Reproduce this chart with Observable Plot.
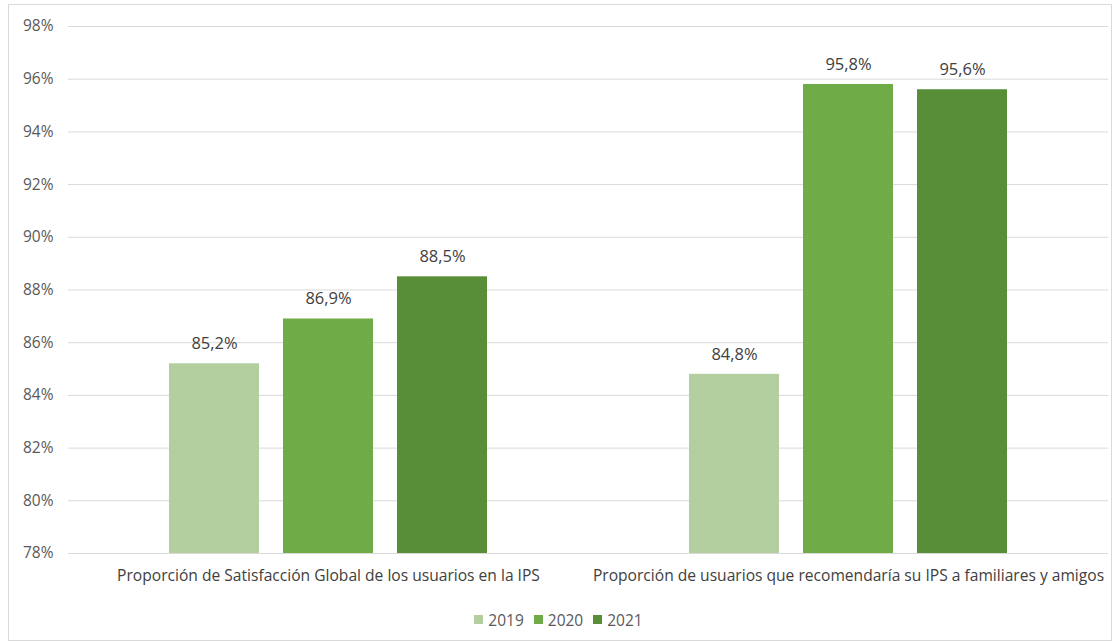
<!DOCTYPE html>
<html>
<head>
<meta charset="utf-8">
<script src="https://cdn.jsdelivr.net/npm/d3@7"></script>
<script src="https://cdn.jsdelivr.net/npm/@observablehq/plot@0.6"></script>
<style>
  body { margin: 0; background: #fff; font-family: "Open Sans", sans-serif; }
  #wrap { position: relative; width: 1117px; height: 643px; overflow: hidden; }
  #frame { position: absolute; left: 8px; top: 4px; width: 1102px; height: 635px; border: 1px solid #d9d9d9; pointer-events: none; }
  #chart { position: absolute; left: 0; top: 0; }
  #legend { position: absolute; left: 0; width: 1117px; top: 607px; text-align: center; font-size: 15.5px; color: #595959; line-height: 22px; }
  #legend span.item { display: inline-flex; align-items: center; margin: 0 5px; }
  #legend span.sw { display: inline-block; width: 9px; height: 9px; margin-right: 5px; }
</style>
</head>
<body>
<div id="wrap">
  <div id="chart"></div>
  <div id="legend"></div>
  <div id="frame"></div>
</div>
<script>
const categories = [
  "Proporción de Satisfacción Global de los usuarios en la IPS",
  "Proporción de usuarios que recomendaría su IPS a familiares y amigos"
];
const years = ["2019", "2020", "2021"];
const values2019 = [85.2, 84.8];
const values2020 = [86.9, 95.8];
const values2021 = [88.5, 95.6];
const yTicks = [78, 80, 82, 84, 86, 88, 90, 92, 94, 96, 98];
const colors = ["#b3cfa0", "#6fab46", "#588e38"];

const series = [values2019, values2020, values2021];
const data = [];
categories.forEach((c, i) => {
  years.forEach((y, j) => data.push({category: c, year: y, value: series[j][i]}));
});

const fmt = v => v.toFixed(1).replace(".", ",") + "%";

const chart = Plot.plot({
  width: 1117,
  height: 600,
  marginLeft: 68,
  marginRight: 9,
  marginTop: 26,
  marginBottom: 47,
  style: {fontFamily: "Open Sans, sans-serif", fontSize: "15px", color: "#404040", background: "transparent"},
  fx: {domain: categories, padding: 0, label: null},
  x: {domain: years, paddingInner: 0.209, paddingOuter: 0.866, axis: null},
  y: {domain: [78, 98], ticks: yTicks, label: null},
  color: {domain: years, range: colors},
  marks: [
    Plot.ruleY(yTicks, {stroke: "#d9d9d9", strokeWidth: 1}),
    Plot.barY(data, {fx: "category", x: "year", y1: 78, y2: "value", fill: "year"}),
    Plot.text(data, {fx: "category", x: "year", y: "value", text: d => fmt(d.value), dy: -20, fill: "#404040", fontSize: 16.5}),
    Plot.axisY({ticks: yTicks, tickSize: 0, tickPadding: 15, tickFormat: d => d + "%", label: null, fill: "#595959", fontSize: 15.5}),
    Plot.axisFx({anchor: "bottom", tickSize: 0, tickPadding: 16, label: null, fill: "#404040", fontSize: 15.6})
  ]
});
document.getElementById("chart").appendChild(chart);

const legend = document.getElementById("legend");
years.forEach((y, i) => {
  const item = document.createElement("span");
  item.className = "item";
  item.innerHTML = `<span class="sw" style="background:${colors[i]}"></span>${y}`;
  legend.appendChild(item);
});
</script>
</body>
</html>
